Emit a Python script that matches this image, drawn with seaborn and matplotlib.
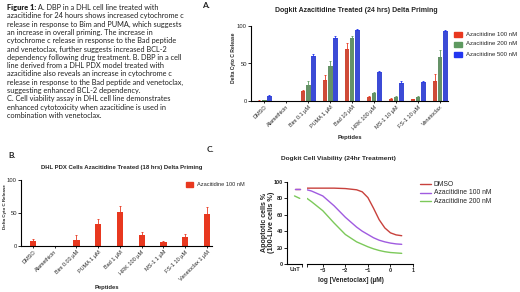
import matplotlib
matplotlib.use('Agg')
import matplotlib.pyplot as plt
from matplotlib.patches import Rectangle
from matplotlib.lines import Line2D
import numpy as np
import pandas as pd
import seaborn as sns

# ---------------- data ----------------
caption_lines = [
    "azacitidine for 24 hours shows increased cytochrome c",
    "release in response to Bim and PUMA, which suggests",
    "an increase in overall priming. The increase in",
    "cytochrome c release in response to the Bad peptide",
    "and venetoclax, further suggests increased BCL-2",
    "dependency following drug treatment. B. DBP in a cell",
    "line derived from a DHL PDX model treated with",
    "azacitidine also reveals an increase in cytochrome c",
    "release in response to the Bad peptide and venetoclax,",
    "suggesting enhanced BCL-2 dependency.",
    "C. Cell viability assay in DHL cell line demonstrates",
    "enhanced cytotoxicity when azacitidine is used in",
    "combination with venetoclax.",
]
caption_head = "Figure 1:"
caption_first = " A. DBP in a DHL cell line treated with"

peptides_a = ['DMSO', 'Alamethicin', 'Bim 0.1 µM', 'PUMA 1 µM', 'Bad 10 µM',
              'HRK 100 µM', 'MS-1 10 µM', 'FS-1 10 µM', 'Venetoclax']
treat_a = ['Azacitidine 100 nM', 'Azacitidine 200 nM', 'Azacitidine 500 nM']
aza100_a = [0.5, 0, 13, 28, 69, 5, 3, 2, 27]
aza200_a = [1, 0, 21, 46, 84, 10, 5, 5, 58]
aza500_a = [7, 0, 60, 84, 95, 38, 24, 25, 93]
err100_a = [0.5, 0, 2, 6, 8, 1.5, 1.5, 1, 9]
err200_a = [0.5, 0, 6, 7, 3, 2, 1.5, 1, 10]
err500_a = [1, 0, 2, 2, 1, 2, 2, 2, 1]

peptides_b = ['DMSO', 'Alamethicin', 'Bim 0.03 µM', 'PUMA 1 µM', 'Bad 1 µM',
              'HRK 100 µM', 'MS-1 1 µM', 'FS-1 10 µM', 'Venetoclax 1 µM']
aza100_b = [7, 0, 9, 33, 52, 16, 6, 13, 48]
err100_b = [3, 0, 7, 8, 8, 5, 1.5, 5, 11]

treat_c = ['DMSO', 'Azacitidine 100 nM', 'Azacitidine 200 nM']
logven_c = [-3.7, -3.5, -3, -2.5, -2, -1.5, -1.25, -1, -0.75, -0.5, -0.25, 0, 0.25, 0.5]
dmso_c = [92.5, 92.5, 92.5, 92.5, 92, 90.5, 88, 81, 68, 54, 44, 38, 35.5, 34.5]
aza100_c = [90.5, 89, 83, 71, 57, 45, 40, 36, 32, 29, 27, 25.5, 24.5, 24]
aza200_c = [80, 76, 65, 50, 36, 27, 24, 21, 18.5, 16.5, 15, 14, 13.5, 13]
unt_pos = [0.5, 0.85]
dmso_unt = [92, 92]
aza100_unt = [91.5, 91.5]
aza200_unt = [83, 80]
xticks_c = [-3, -2, -1, 0, 1]

# ---------------- style ----------------
sns.set_theme(style='ticks')
plt.rcParams['font.family'] = ['Liberation Sans', 'DejaVu Sans']
plt.rcParams['axes.linewidth'] = 0.8
plt.rcParams['xtick.major.width'] = 0.7
plt.rcParams['ytick.major.width'] = 0.7
plt.rcParams['xtick.minor.width'] = 0.7
plt.rcParams['xtick.major.size'] = 2
plt.rcParams['ytick.major.size'] = 2
plt.rcParams['xtick.major.pad'] = 1
plt.rcParams['ytick.major.pad'] = 1
plt.rcParams['axes.edgecolor'] = 'black'

RED, GREEN, BLUE = '#e8381f', '#5e9960', '#2236f0'
C_DMSO, C_100, C_200 = '#c8413c', '#a05be0', '#7cc95a'

W, H = 520, 292
fig = plt.figure(figsize=(W / 100, H / 100), dpi=100)
fig.patch.set_facecolor('white')
R = fig.canvas.get_renderer()


def fpos(x, y):
    return (x / W, 1 - y / H)


def ax_px(l, t, r, b):
    return fig.add_axes([l / W, 1 - b / H, (r - l) / W, (b - t) / H])


def place(x, y, s, width=None, size=5, ha='center', va='center', rot=0, **kw):
    t = fig.text(*fpos(x, y), s, fontsize=size, ha=ha, va=va, rotation=rot, **kw)
    if width:
        bb = t.get_window_extent(R)
        cur = bb.height if rot == 90 else bb.width
        t.set_fontsize(size * width / cur)
    return t


# ---------------- caption ----------------
cap_font = ['Lato', 'DejaVu Sans']
probe = fig.text(0, 0, caption_lines[0], fontsize=10, family=cap_font)
cap_size = 10 * 178 / probe.get_window_extent(R).width
probe.remove()
y0, dy = 7.5, 8.3
head = fig.text(*fpos(7, y0), caption_head, fontsize=cap_size, family=cap_font,
                fontweight='heavy', va='center', color='#222222')
hw = head.get_window_extent(R).width
fig.text(*fpos(7 + hw, y0), caption_first, fontsize=cap_size, family=cap_font,
         va='center', color='#222222')
for i, line in enumerate(caption_lines):
    fig.text(*fpos(7, y0 + dy * (i + 1)), line, fontsize=cap_size, family=cap_font,
             va='center', color='#222222')

# panel letters
for lx, ly, lt in [(202, 6, 'A.'), (8, 155.5, 'B.'), (207, 149.5, 'C.')]:
    fig.text(*fpos(lx, ly), lt, fontsize=6, family=cap_font, fontweight='bold',
             va='center', ha='left', color='#222222')


def style_bar_axes(ax):
    sns.despine(ax=ax)
    ax.set_xlabel('')
    ax.set_ylabel('')
    ax.set_ylim(0, 100)
    ax.set_yticks([0, 50, 100])
    ax.tick_params(axis='y', labelsize=4.2)
    ax.tick_params(axis='x', labelsize=4.0, length=1.5)
    for lab in ax.get_xticklabels():
        lab.set_rotation(45)
        lab.set_ha('right')
        lab.set_rotation_mode('anchor')
    ax.set_facecolor('none')


# ---------------- panel A ----------------
axA = ax_px(251, 26, 448, 101)
dfA = pd.DataFrame({
    'peptide': peptides_a * 3,
    'treatment': sum([[t] * len(peptides_a) for t in treat_a], []),
    'value': aza100_a + aza200_a + aza500_a,
})
sns.barplot(data=dfA, x='peptide', y='value', hue='treatment', order=peptides_a,
            hue_order=treat_a, palette=[RED, GREEN, BLUE], width=0.7, gap=0.08,
            errorbar=None, legend=False, ax=axA, linewidth=0)
for cont, errs, col in zip(axA.containers, [err100_a, err200_a, err500_a], [RED, GREEN, BLUE]):
    xs = [b.get_x() + b.get_width() / 2 for b in cont]
    hs = [b.get_height() for b in cont]
    axA.errorbar(xs, hs, yerr=[np.zeros(len(errs)), errs], fmt='none', ecolor=col,
                 elinewidth=0.6, capsize=1.0, capthick=0.6)
axA.set_xlim(-0.6, 8.36)
style_bar_axes(axA)
place(356, 11, 'Dogkit Azacitidine Treated (24 hrs) Delta Priming', width=163, fontweight='bold')
place(234, 58, 'Delta Cyto C Release', width=50, rot=90, fontweight='bold')
place(350, 138, 'Peptides', width=25, fontweight='bold')
legA = []
for i, (t, c) in enumerate(zip(treat_a, [RED, GREEN, BLUE])):
    yc = 34 + 10 * i
    fig.add_artist(Rectangle(fpos(454, yc + 2.5), 8 / W, 5 / H, color=c,
                             transform=fig.transFigure))
    legA.append(place(466, yc, t, width=51 if i == 0 else None, size=4.0, ha='left'))
for t in legA[1:]:
    t.set_fontsize(legA[0].get_fontsize())

# ---------------- panel B ----------------
axB = ax_px(21, 180, 212, 246)
dfB = pd.DataFrame({'peptide': peptides_b, 'value': aza100_b})
sns.barplot(data=dfB, x='peptide', y='value', order=peptides_b, color=RED,
            width=0.28, errorbar=None, ax=axB, linewidth=0, saturation=1)
contB = axB.containers[0]
axB.errorbar([b.get_x() + b.get_width() / 2 for b in contB], [b.get_height() for b in contB],
             yerr=[np.zeros(len(err100_b)), err100_b], fmt='none', ecolor=RED,
             elinewidth=0.6, capsize=1.0, capthick=0.6)
axB.set_xlim(-0.55, 8.23)
style_bar_axes(axB)
place(121.5, 168, 'DHL PDX Cells Azacitidine Treated (18 hrs) Delta Priming', width=165,
      fontweight='bold')
place(5, 207, 'Delta Cyto C Release', width=45, rot=90, fontweight='bold')
place(107, 287, 'Peptides', width=25, fontweight='bold')
fig.add_artist(Rectangle(fpos(186, 186.5), 7 / W, 5 / H, color=RED, transform=fig.transFigure))
place(197, 184, 'Azacitidine 100 nM', width=48, size=4.0, ha='left')

# ---------------- panel C ----------------
axCL = ax_px(287, 182, 302, 264)
axCR = ax_px(307, 182, 413, 264)
dfC = pd.DataFrame({
    'logx': logven_c * 3,
    'treatment': sum([[t] * len(logven_c) for t in treat_c], []),
    'value': dmso_c + aza100_c + aza200_c,
})
sns.lineplot(data=dfC, x='logx', y='value', hue='treatment', hue_order=treat_c,
             palette=[C_DMSO, C_100, C_200], linewidth=1.0, legend=False, ax=axCR)
dfU = pd.DataFrame({
    'pos': unt_pos * 3,
    'treatment': sum([[t] * len(unt_pos) for t in treat_c], []),
    'value': dmso_unt + aza100_unt + aza200_unt,
})
sns.lineplot(data=dfU, x='pos', y='value', hue='treatment', hue_order=treat_c,
             palette=[C_DMSO, C_100, C_200], linewidth=1.0, legend=False, ax=axCL)
for ax in (axCL, axCR):
    ax.set_ylim(0, 100)
    ax.set_xlabel('')
    ax.set_ylabel('')
    ax.set_facecolor('none')
    sns.despine(ax=ax)
axCL.set_xlim(0, 1)
axCL.set_yticks([0, 20, 40, 60, 80, 100])
axCL.set_xticks([0.5])
axCL.set_xticklabels(['UnT'])
axCL.set_xticks([1.0], minor=True)
axCL.tick_params(axis='x', which='major', length=0, pad=2.5)
axCL.tick_params(axis='x', which='minor', length=2.5, width=0.7)
axCR.set_xlim(-3.7, 1)
axCR.set_xticks(xticks_c)
axCR.set_xticks([-3.7], minor=True)
axCR.tick_params(axis='x', which='minor', length=2.5, width=0.7)
axCR.spines['left'].set_visible(False)
axCR.set_yticks([])
for ax in (axCL, axCR):
    ax.tick_params(labelsize=4.0)
    for lab in ax.get_xticklabels() + ax.get_yticklabels():
        lab.set_fontweight('bold')
place(338, 158, 'Dogkit Cell Viability (24hr Treatment)', width=115, fontweight='bold')
place(264, 222, 'Apoptotic cells %', width=60, rot=90, fontweight='bold')
place(271.5, 222, '(100-Live cells %)', width=62, rot=90, fontweight='bold')
place(351, 281, 'log [Venetoclax] (µM)', width=66, fontweight='bold')
legC = []
for i, (t, c) in enumerate(zip(treat_c, [C_DMSO, C_100, C_200])):
    yc = 184.3 + 8.4 * i
    fig.add_artist(Line2D([420 / W, 431 / W], [1 - yc / H] * 2, color=c, lw=1.0,
                          transform=fig.transFigure))
    legC.append(place(434, yc, t, width=58 if i == 1 else None, size=4.3, ha='left'))
for t in (legC[0], legC[2]):
    t.set_fontsize(legC[1].get_fontsize())

fig.savefig('out.png', dpi=100)
